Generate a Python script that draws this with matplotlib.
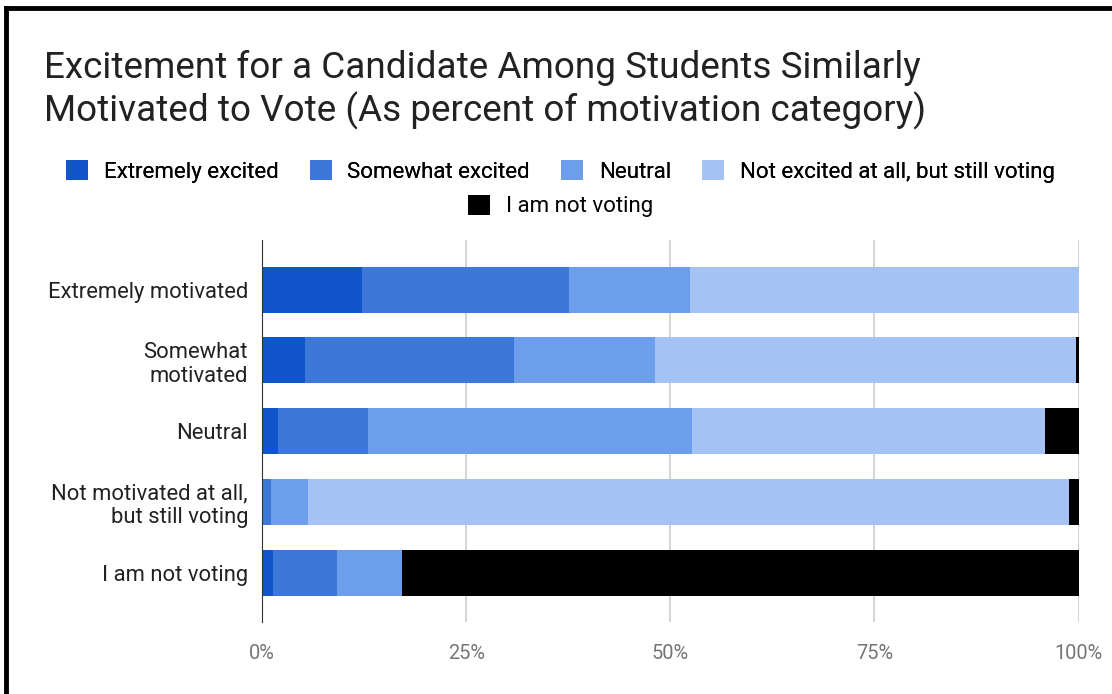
import matplotlib.pyplot as plt
import numpy as np
from matplotlib.lines import Line2D
from matplotlib.patches import Patch

plt.rcParams['font.family'] = ['Roboto', 'DejaVu Sans']

# motivation categories (rows, top to bottom)
categories = ['Extremely motivated', 'Somewhat\nmotivated', 'Neutral',
              'Not motivated at all,\nbut still voting', 'I am not voting']

# excitement shares, percent of each motivation category
extremely_excited = [12.3, 5.3, 2.0, 0.0, 1.3]
somewhat_excited = [25.3, 25.5, 11.0, 1.1, 7.9]
neutral = [14.8, 17.3, 39.6, 4.5, 7.9]
not_excited_voting = [47.6, 51.6, 43.3, 93.2, 0.0]
not_voting = [0.0, 0.3, 4.1, 1.2, 82.9]

series_names = ['Extremely excited', 'Somewhat excited', 'Neutral',
                'Not excited at all, but still voting', 'I am not voting']
colors = ['#1155cc', '#3c78d8', '#6d9eeb', '#a4c2f4', '#000000']

series = [extremely_excited, somewhat_excited, neutral, not_excited_voting, not_voting]

fig = plt.figure(figsize=(11.12, 6.94), dpi=100)
ax = fig.add_axes([0.2356, 0.1037, 0.7344, 0.5505])

y = np.arange(len(categories))
left = np.zeros(len(categories))
for vals, col, name in zip(series, colors, series_names):
    vals = np.array(vals)
    ax.barh(y, vals, left=left, height=0.65, color=col, label=name, zorder=3)
    left += vals

ax.set_xlim(0, 100)
ax.set_ylim(4.7, -0.7)
ax.set_xticks([0, 25, 50, 75, 100])
ax.set_xticklabels(['0%', '25%', '50%', '75%', '100%'], color='#757575', fontsize=14.4)
ax.set_yticks(y)
ax.set_yticklabels(categories, color='#222222', fontsize=15.8)
ax.tick_params(length=0, pad=10)
ax.tick_params(axis='x', pad=16)
ax.grid(axis='x', color='#cccccc', linewidth=1.2, zorder=0)
for s in ['top', 'right', 'bottom']:
    ax.spines[s].set_visible(False)
ax.spines['left'].set_color('#333333')
ax.spines['left'].set_zorder(4)

fig.text(0.040, 0.902, 'Excitement for a Candidate Among Students Similarly',
         fontsize=26.6, color='#222222', va='center')
fig.text(0.040, 0.841, 'Motivated to Vote (As percent of motivation category)',
         fontsize=26.6, color='#222222', va='center')

handles = [Patch(facecolor=c, edgecolor='none') for c in colors]
leg1 = fig.legend(handles[:4], series_names[:4], loc='center', ncol=4,
                  bbox_to_anchor=(0.504, 0.753), frameon=False, fontsize=16,
                  handlelength=1.0, handleheight=1.0, handletextpad=0.7,
                  columnspacing=1.4)
fig.legend(handles[4:], series_names[4:], loc='center',
           bbox_to_anchor=(0.504, 0.703), frameon=False, fontsize=16,
           handlelength=1.0, handleheight=1.0, handletextpad=0.7)
fig.add_artist(leg1)

# black frame on top and left edge
fig.add_artist(Line2D([0.005, 1.0], [0.989, 0.989], color='black', linewidth=3.5,
                      transform=fig.transFigure))
fig.add_artist(Line2D([0.005, 0.005], [0.0, 0.989], color='black', linewidth=3.5,
                      transform=fig.transFigure))

fig.savefig('out.png', dpi=100)
